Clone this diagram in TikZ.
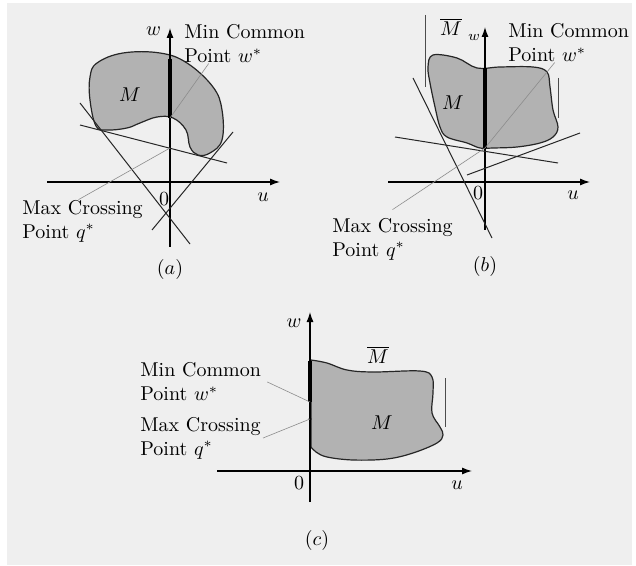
\documentclass[tikz,border=0pt]{standalone}
\usepackage{amsmath}
\usepackage{amssymb}
\usepackage{tikz}
\usetikzlibrary{positioning}
\usetikzlibrary{calc}
\usetikzlibrary{arrows.meta}

\definecolor{paper}{RGB}{239,239,239}
\definecolor{setfill}{RGB}{178,178,178}

\tikzset{
    axis/.style={line width=0.6pt, -{Latex[length=5pt,width=3.5pt]}},
    region/.style={fill=setfill, draw=black!85, line width=0.6pt},
    tangent/.style={line width=0.5pt, black!85},
    leader/.style={line width=0.3pt, black!45},
    wseg/.style={line width=2pt},
    closure/.style={line width=0.4pt, black!70},
    caption/.style={inner sep=0pt, align=left, anchor=west},
}

\begin{document}
\begin{tikzpicture}[x=0.5pt, y=-0.5pt]
    \useasboundingbox (0,0) rectangle (636,566);
    \fill[paper] (7,3) rectangle (632,565);

    % (a)
    \coordinate (oA) at (170,182);
    \coordinate (wA) at (170,118);
    \coordinate (qA) at (170,148);
    \fill[region] plot[smooth cycle, tension=0.65] coordinates {(97,63) (123,53) (160,53) (187,63) (213,87) (222,110) (222,140) (210,153) (198,155) (190,147) (186,130) (173,118) (157,117) (140,123) (127,128) (107,130) (96,126) (90,100) (90,77)};
    \draw[axis] (47,182) -- (280,182);
    \draw[axis] (170,247) -- (170,28);
    \draw[wseg] (170,59) -- (wA);
    \draw[tangent] (80,103) -- (190,244);
    \draw[tangent] (152,230) -- (233,132);
    \draw[tangent] (80,125) -- (227,163);
    \node (MA) at (130,95) {$M$};
    \node (uA) at (263,197) {$u$};
    \node (zA) at (164,199) {$0$};
    \node[left=1pt of {(170,31)}] (wlA) {$w$};
    \node[caption] (mcA) at (184,44) {Min Common\\Point $w^*$};
    \node[caption] (mxA) at (22,221) {Max Crossing\\Point $q^*$};
    \node (capA) at (170,270) {$(a)$};
    \draw[leader] ([xshift=-18pt]mcA.south) -- (wA);
    \draw[leader] ([xshift=-2pt]mxA.north) -- (qA);

    % (b)
    \coordinate (wB) at (485,148);
    \fill[region] plot[smooth cycle, tension=0.6] coordinates {(433,55) (457,58) (477,68) (500,67) (533,67) (547,72) (550,87) (553,110) (558,127) (553,137) (540,143) (517,147) (493,148) (480,148) (467,143) (447,137) (440,127) (435,107) (430,83) (428,67)};
    \draw[closure] (425,15) -- (425,87);
    \draw[closure] (558,78) -- (558,118);
    \draw[axis] (388,182) -- (590,182);
    \draw[axis] (485,230) -- (485,27);
    \draw[wseg] (485,68) -- (wB);
    \draw[tangent] (413,78) -- (492,238);
    \draw[tangent] (395,137) -- (558,163);
    \draw[tangent] (467,175) -- (580,133);
    \node (MB) at (453,103) {$M$};
    \node (MbarB) at (451,27) {$\overline{M}$};
    \node (uB) at (573,195) {$u$};
    \node (zB) at (478,193) {$0$};
    \node (wlB) at (474,37) {\scriptsize$w$};
    \node[caption] (mcB) at (508,43) {Min Common\\Point $w^*$};
    \node[caption] (mxB) at (332,239) {Max Crossing\\Point $q^*$};
    \node (capB) at (485,266) {$(b)$};
    \draw[leader] ([xshift=-7pt]mcB.south) -- (wB);
    \draw[leader] ([yshift=4pt]mxB.north) -- (wB);

    % (c)
    \coordinate (wC) at (310,402);
    \coordinate (qC) at (310,419);
    \fill[region] (311,360) -- plot[smooth, tension=0.6] coordinates {(311,360) (327,363) (347,370) (373,372) (420,371) (432,377) (433,393) (432,413) (440,427) (443,435) (437,443) (413,453) (387,459) (353,460) (327,457) (316,452) (311,447)} -- cycle;
    \draw[closure] (445,378) -- (445,427);
    \draw[axis] (217,471) -- (472,471);
    \draw[axis] (310,502) -- (310,312);
    \draw[wseg] (310,361) -- (wC);
    \fill (qC) circle (1.6);
    \node (MC) at (382,423) {$M$};
    \node (MbarC) at (378,355) {$\overline{M}$};
    \node (uC) at (457,485) {$u$};
    \node (zC) at (299,483) {$0$};
    \node (wlC) at (294,323) {$w$};
    \node[caption] (mcC) at (140,382) {Min Common\\Point $w^*$};
    \node[caption] (mxC) at (140,438) {Max Crossing\\Point $q^*$};
    \node (capC) at (317,540) {$(c)$};
    \draw[leader] ([xshift=3pt]mcC.east) -- (wC);
    \draw[leader] ([xshift=1pt]mxC.east) -- (qC);
\end{tikzpicture}
\end{document}
